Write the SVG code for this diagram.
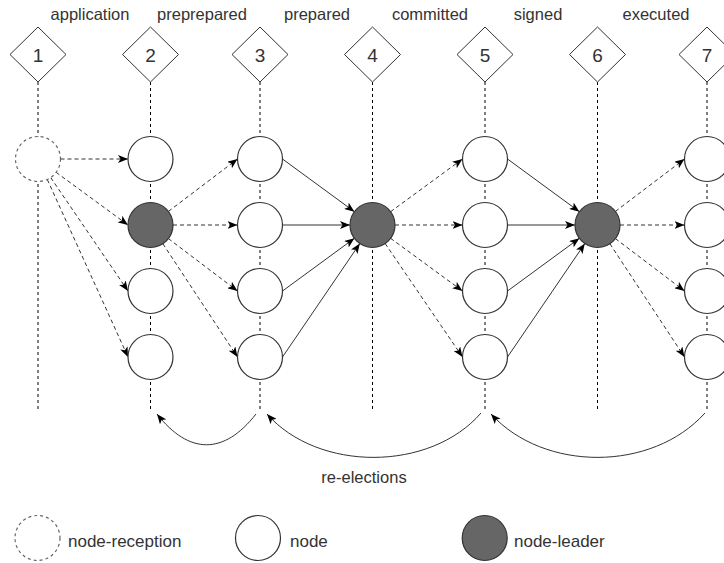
<svg xmlns="http://www.w3.org/2000/svg" width="724" height="563" viewBox="0 0 724 563">
<style>
  text { font-family: "Liberation Sans", Arial, sans-serif; fill: #333333; }
  .lbl { font-size: 16.5px; text-anchor: middle; }
  .num { font-size: 19px; text-anchor: middle; }
  .leg { font-size: 17px; }
  .dia { fill: #ffffff; stroke: #333333; stroke-width: 1; }
  .life { stroke: #000000; stroke-width: 1; stroke-dasharray: 3 3; fill: none; }
  .node { fill: #ffffff; stroke: #333333; stroke-width: 1.2; }
  .leader { fill: #666666; stroke: #333333; stroke-width: 1.2; }
  .recv { fill: #ffffff; stroke: #666666; stroke-width: 1.2; stroke-dasharray: 3 3; }
  .da { stroke: #333333; stroke-width: 1; stroke-dasharray: 4 3; fill: none; marker-end: url(#arr); }
  .so { stroke: #333333; stroke-width: 1; fill: none; marker-end: url(#arr); }
</style>
<defs>
  <marker id="arr" markerUnits="userSpaceOnUse" markerWidth="10" markerHeight="8" viewBox="0 0 10 8" refX="10" refY="4" orient="auto">
    <path d="M0,0 L10,4 L0,8 L2.5,4 Z" fill="#000000" stroke="none"/>
  </marker>
</defs>

<g id="phase-labels">
  <text class="lbl" x="90" y="20">application</text>
  <text class="lbl" x="202" y="20">preprepared</text>
  <text class="lbl" x="317" y="20">prepared</text>
  <text class="lbl" x="430" y="20">committed</text>
  <text class="lbl" x="538" y="20">signed</text>
  <text class="lbl" x="656" y="20">executed</text>
</g>

<g id="lifelines">
  <line class="life" x1="38" y1="82" x2="38" y2="412"/>
  <line class="life" x1="150.5" y1="82" x2="150.5" y2="412"/>
  <line class="life" x1="260" y1="82" x2="260" y2="412"/>
  <line class="life" x1="372.5" y1="82" x2="372.5" y2="412"/>
  <line class="life" x1="485" y1="82" x2="485" y2="412"/>
  <line class="life" x1="597.5" y1="82" x2="597.5" y2="412"/>
  <line class="life" x1="707" y1="82" x2="707" y2="412"/>
</g>

<g id="step-1"><polygon class="dia" points="38,27 66,54.5 38,82 10,54.5"/><text class="num" x="38" y="62">1</text></g>
<g id="step-2"><polygon class="dia" points="150.5,27 178.5,54.5 150.5,82 122.5,54.5"/><text class="num" x="150.5" y="62">2</text></g>
<g id="step-3"><polygon class="dia" points="260,27 288,54.5 260,82 232,54.5"/><text class="num" x="260" y="62">3</text></g>
<g id="step-4"><polygon class="dia" points="372.5,27 400.5,54.5 372.5,82 344.5,54.5"/><text class="num" x="372.5" y="62">4</text></g>
<g id="step-5"><polygon class="dia" points="485,27 513,54.5 485,82 457,54.5"/><text class="num" x="485" y="62">5</text></g>
<g id="step-6"><polygon class="dia" points="597.5,27 625.5,54.5 597.5,82 569.5,54.5"/><text class="num" x="597.5" y="62">6</text></g>
<g id="step-7"><polygon class="dia" points="707,27 735,54.5 707,82 679,54.5"/><text class="num" x="707" y="62">7</text></g>

<g id="connectors">
  <!-- reception to column 2 -->
  <line class="da" x1="60.5" y1="159" x2="128" y2="159"/>
  <line class="da" x1="56.1" y1="172.3" x2="128" y2="225"/>
  <line class="da" x1="50.7" y1="177.6" x2="128" y2="291"/>
  <line class="da" x1="47.3" y1="179.5" x2="128" y2="357"/>
  <!-- leader col 2 to column 3 -->
  <line class="da" x1="168.4" y1="211.4" x2="237.5" y2="159"/>
  <line class="da" x1="173" y1="225" x2="237.5" y2="225"/>
  <line class="da" x1="168.4" y1="238.6" x2="237.5" y2="291"/>
  <line class="da" x1="162.9" y1="243.8" x2="237.5" y2="357"/>
  <!-- column 3 to leader col 4 -->
  <line class="so" x1="282.5" y1="159" x2="354.4" y2="211.7"/>
  <line class="so" x1="282.5" y1="225" x2="350" y2="225"/>
  <line class="so" x1="282.5" y1="291" x2="354.4" y2="238.3"/>
  <line class="so" x1="282.5" y1="357" x2="359.8" y2="243.6"/>
  <!-- leader col 4 to column 5 -->
  <line class="da" x1="390.6" y1="211.7" x2="462.5" y2="159"/>
  <line class="da" x1="395" y1="225" x2="462.5" y2="225"/>
  <line class="da" x1="390.6" y1="238.3" x2="462.5" y2="291"/>
  <line class="da" x1="385.2" y1="243.6" x2="462.5" y2="357"/>
  <!-- column 5 to leader col 6 -->
  <line class="so" x1="507.5" y1="159" x2="579.4" y2="211.7"/>
  <line class="so" x1="507.5" y1="225" x2="575" y2="225"/>
  <line class="so" x1="507.5" y1="291" x2="579.4" y2="238.3"/>
  <line class="so" x1="507.5" y1="357" x2="584.8" y2="243.6"/>
  <!-- leader col 6 to column 7 -->
  <line class="da" x1="615.4" y1="211.4" x2="684.5" y2="159"/>
  <line class="da" x1="620" y1="225" x2="684.5" y2="225"/>
  <line class="da" x1="615.4" y1="238.6" x2="684.5" y2="291"/>
  <line class="da" x1="609.9" y1="243.8" x2="684.5" y2="357"/>
  <!-- re-elections -->
  <path class="so" d="M256,414 C224,455 189,455 157,414"/>
  <path class="so" d="M481,413 C430,472 318,472 267,414"/>
  <path class="so" d="M705,413 C652,472 544,472 491,414"/>
</g>

<g id="node-1-1"><circle class="recv" cx="38" cy="159" r="22.5"/></g>

<g id="node-2-1"><circle class="node" cx="150.5" cy="159" r="22.5"/></g>
<g id="node-2-2"><circle class="leader" cx="150.5" cy="225" r="22.5"/></g>
<g id="node-2-3"><circle class="node" cx="150.5" cy="291" r="22.5"/></g>
<g id="node-2-4"><circle class="node" cx="150.5" cy="357" r="22.5"/></g>

<g id="node-3-1"><circle class="node" cx="260" cy="159" r="22.5"/></g>
<g id="node-3-2"><circle class="node" cx="260" cy="225" r="22.5"/></g>
<g id="node-3-3"><circle class="node" cx="260" cy="291" r="22.5"/></g>
<g id="node-3-4"><circle class="node" cx="260" cy="357" r="22.5"/></g>

<g id="node-4-2"><circle class="leader" cx="372.5" cy="225" r="22.5"/></g>

<g id="node-5-1"><circle class="node" cx="485" cy="159" r="22.5"/></g>
<g id="node-5-2"><circle class="node" cx="485" cy="225" r="22.5"/></g>
<g id="node-5-3"><circle class="node" cx="485" cy="291" r="22.5"/></g>
<g id="node-5-4"><circle class="node" cx="485" cy="357" r="22.5"/></g>

<g id="node-6-2"><circle class="leader" cx="597.5" cy="225" r="22.5"/></g>

<g id="node-7-1"><circle class="node" cx="707" cy="159" r="22.5"/></g>
<g id="node-7-2"><circle class="node" cx="707" cy="225" r="22.5"/></g>
<g id="node-7-3"><circle class="node" cx="707" cy="291" r="22.5"/></g>
<g id="node-7-4"><circle class="node" cx="707" cy="357" r="22.5"/></g>

<g id="re-elections-label"><text class="lbl" x="364" y="483">re-elections</text></g>

<g id="legend">
  <g id="legend-reception"><circle class="recv" cx="37.5" cy="538" r="22.5"/><text class="leg" x="68" y="547">node-reception</text></g>
  <g id="legend-node"><circle class="node" cx="258" cy="538" r="22.5"/><text class="leg" x="290" y="547">node</text></g>
  <g id="legend-leader"><circle class="leader" cx="484.7" cy="538" r="22.5"/><text class="leg" x="514" y="547">node-leader</text></g>
</g>
</svg>
